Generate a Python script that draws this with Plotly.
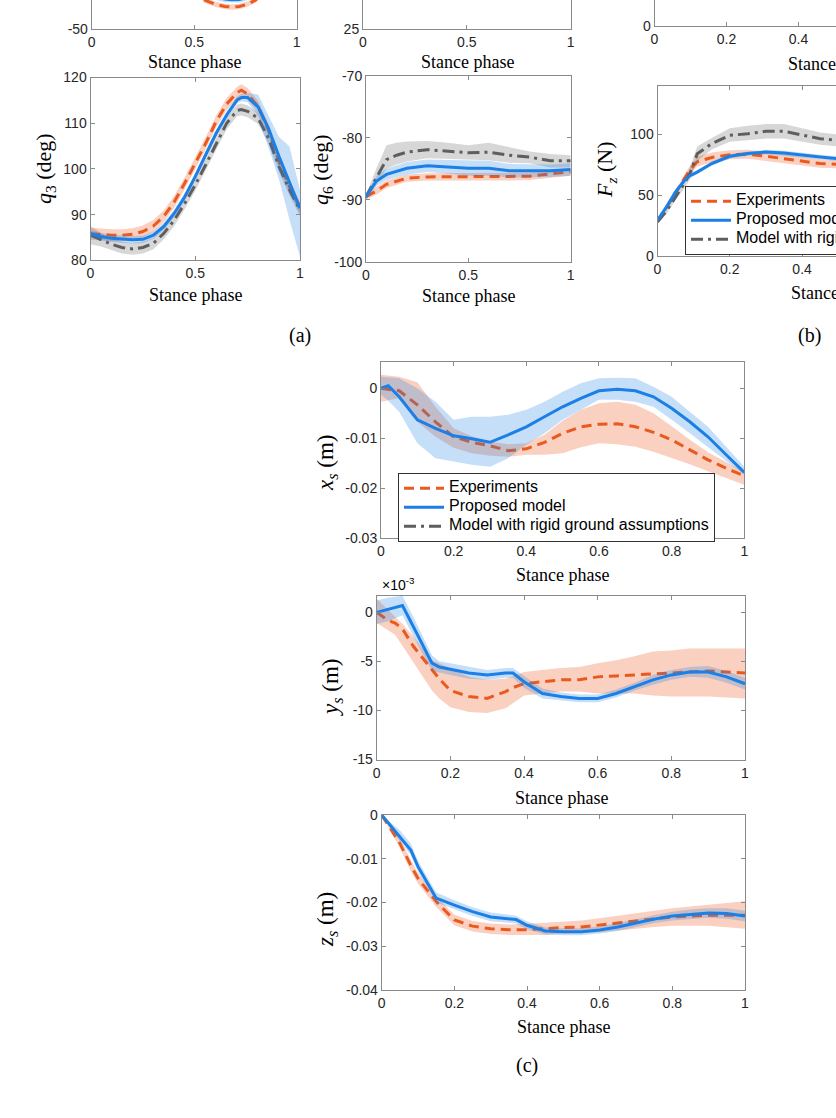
import plotly.graph_objects as go

W, H = 836, 1118

# ---------------- data ----------------
# top-left panel (only bottom strip visible)
tl_x = [0.45, 0.55, 0.6, 0.65, 0.68, 0.72, 0.76, 0.8, 0.9]
tl_exp = [-20, -33.7, -36, -37.3, -37.6, -37.3, -36, -33.7, -22]
tl_exp_up = [-18.5, -32.2, -34.5, -35.8, -36.1, -35.8, -34.5, -32.2, -20.5]
tl_exp_lo = [-21.5, -35.2, -37.5, -38.8, -39.1, -38.8, -37.5, -35.2, -23.5]
tl_prop = [-16, -29.5, -31.8, -33.2, -33.5, -33.4, -32.2, -29.5, -18]
tl_prop_up = [-14.3, -27.8, -30.1, -31.5, -31.8, -31.7, -30.5, -27.8, -16.3]
tl_prop_lo = [-17.7, -31.2, -33.5, -34.9, -35.2, -35.1, -33.9, -31.2, -19.7]

# q3
q3_x = [0, 0.05, 0.1, 0.15, 0.2, 0.25, 0.3, 0.35, 0.4, 0.45, 0.5, 0.55, 0.6, 0.65, 0.7, 0.72, 0.75, 0.8, 0.85, 0.9, 0.95, 1.0]
q3_exp = [85.8, 85.6, 85.5, 85.5, 85.7, 86.3, 87.5, 89.6, 92.8, 96.9, 101.2, 105.6, 110.4, 114.2, 116.7, 117.2, 116.4, 113.6, 108.5, 101.6, 96.1, 91.5]
q3_exp_up = [87.1, 86.9, 86.8, 86.8, 87.0, 87.6, 88.8, 90.9, 94.1, 98.2, 102.5, 106.9, 111.7, 115.5, 118.0, 118.5, 117.7, 114.9, 109.8, 102.9, 97.4, 92.8]
q3_exp_lo = [84.5, 84.3, 84.2, 84.2, 84.4, 85.0, 86.2, 88.3, 91.5, 95.6, 99.9, 104.3, 109.1, 112.9, 115.4, 115.9, 115.1, 112.3, 107.2, 100.3, 94.8, 90.2]
q3_prop = [85.8, 85.2, 84.8, 84.6, 84.5, 84.6, 85.5, 87.4, 90.3, 93.9, 98.3, 103.1, 107.8, 111.8, 115.1, 115.6, 115.6, 113.6, 108.8, 102.7, 96.9, 91.4]
q3_prop_up = [86.6, 86.0, 85.6, 85.4, 85.3, 85.4, 86.3, 88.2, 91.1, 94.7, 99.1, 103.9, 108.6, 112.6, 115.9, 116.4, 116.6, 116.3, 111.5, 107.0, 104.9, 95.4]
q3_prop_lo = [85.0, 84.4, 84.0, 83.8, 83.7, 83.8, 84.7, 86.6, 89.5, 93.1, 97.5, 102.3, 107.0, 111.0, 114.3, 114.8, 114.6, 111.6, 104.8, 97.6, 88.8, 80.8]
q3_rig = [85.5, 84.5, 83.5, 82.8, 82.5, 82.8, 83.7, 85.9, 88.8, 92.5, 96.5, 100.9, 105.6, 110.0, 112.8, 113.0, 112.6, 111.1, 106.7, 100.5, 95.4, 91.0]
q3_rig_up = [87.5, 86.0, 84.8, 84.1, 83.8, 84.1, 85.0, 87.2, 90.1, 93.8, 97.8, 102.2, 106.9, 111.3, 114.1, 114.3, 113.9, 112.4, 108.0, 101.8, 96.7, 92.3]
q3_rig_lo = [83.5, 83.0, 82.2, 81.5, 81.2, 81.5, 82.4, 84.6, 87.5, 91.2, 95.2, 99.6, 104.3, 108.7, 111.5, 111.7, 111.3, 109.8, 105.4, 99.2, 94.1, 89.7]

# q6
q6_x = [0, 0.05, 0.1, 0.15, 0.2, 0.3, 0.4, 0.5, 0.6, 0.7, 0.8, 0.9, 1.0]
q6_exp = [-89.5, -88.6, -87.5, -87.0, -86.5, -86.3, -86.3, -86.3, -86.3, -86.3, -86.2, -85.8, -85.5]
q6_exp_up = [-89.0, -88.0, -86.9, -86.4, -85.9, -85.7, -85.7, -85.7, -85.7, -85.7, -85.6, -85.2, -84.9]
q6_exp_lo = [-90.0, -89.2, -88.1, -87.6, -87.1, -86.9, -86.9, -86.9, -86.9, -86.9, -86.8, -86.4, -86.1]
q6_prop = [-89.5, -87.0, -85.9, -85.4, -84.9, -84.5, -84.7, -84.9, -84.9, -85.3, -85.3, -85.3, -85.1]
q6_prop_up = [-89.0, -86.2, -85.0, -84.4, -83.9, -83.5, -83.6, -83.7, -83.7, -84.2, -84.3, -84.3, -84.1]
q6_prop_lo = [-90.0, -87.8, -86.8, -86.4, -85.9, -85.5, -85.8, -86.1, -86.1, -86.4, -86.3, -86.3, -86.1]
q6_rig = [-89.5, -86.4, -83.5, -82.8, -82.3, -81.9, -82.1, -82.4, -82.3, -82.8, -83.1, -83.7, -83.7]
q6_rig_up = [-89.2, -85.0, -81.2, -80.8, -80.6, -80.5, -80.8, -81.2, -80.8, -81.5, -82.2, -82.6, -82.8]
q6_rig_lo = [-89.8, -87.6, -85.0, -84.3, -83.8, -83.3, -83.4, -83.5, -83.6, -84.0, -84.1, -84.8, -84.8]

# Fz (visible part only)
fz_x = [0, 0.025, 0.05, 0.075, 0.09, 0.11, 0.15, 0.2, 0.25, 0.3, 0.35, 0.4, 0.45, 0.5]
fz_exp = [28.1, 40, 52.7, 64, 71, 77.5, 81, 83.3, 83.6, 82, 80, 77.9, 76, 75.4]
fz_exp_up = [29, 42, 55, 67, 74.5, 81.5, 85, 87, 87.3, 85.8, 83.8, 81.6, 79.5, 78.8]
fz_exp_lo = [27, 38, 50.5, 61, 67.5, 73.5, 77, 79.5, 79.9, 78.3, 76.3, 74.3, 72.5, 72]
fz_prop = [29.5, 40.4, 52.7, 62.3, 66, 69, 76, 82, 84.2, 85.5, 84.7, 82.8, 81.4, 80]
fz_prop_up = [31.3, 42.2, 54.5, 64.1, 67.8, 70.8, 77.8, 83.8, 86.0, 87.3, 86.5, 84.6, 83.2, 81.8]
fz_prop_lo = [27.7, 38.6, 50.9, 60.5, 64.2, 67.2, 74.2, 80.2, 82.4, 83.7, 82.9, 81.0, 79.6, 78.2]
fz_rig = [28.1, 37, 48.6, 60, 68, 84, 92.3, 99.2, 100.5, 102.5, 102.5, 99.2, 96.4, 95]
fz_rig_up = [29.5, 39.5, 51.5, 64, 73, 90, 97, 105, 107, 108.5, 108.5, 105, 101.5, 100]
fz_rig_lo = [26.5, 34.5, 46, 56, 63, 78, 87.5, 94, 95, 96.5, 96.5, 94, 91.5, 90]

# x_s (m)
xs_x = [0, 0.02, 0.05, 0.1, 0.15, 0.2, 0.25, 0.3, 0.35, 0.4, 0.45, 0.5, 0.55, 0.6, 0.65, 0.7, 0.75, 0.8, 0.85, 0.9, 0.95, 1.0]
xs_exp = [0, -0.0002, -0.0005, -0.0033, -0.0067, -0.0097, -0.0108, -0.0115, -0.0125, -0.0121, -0.0108, -0.009, -0.0077, -0.0072, -0.0071, -0.0077, -0.0088, -0.0103, -0.0123, -0.0143, -0.016, -0.0175]
xs_exp_up = [0.0027, 0.0025, 0.0023, 0.0012, -0.0037, -0.008, -0.0096, -0.0107, -0.0112, -0.011, -0.0093, -0.0065, -0.0043, -0.003, -0.0027, -0.0033, -0.005, -0.0076, -0.0103, -0.0128, -0.0148, -0.0167]
xs_exp_lo = [-0.0027, -0.0024, -0.002, -0.0067, -0.0097, -0.0119, -0.013, -0.0135, -0.0137, -0.0133, -0.0133, -0.013, -0.0118, -0.011, -0.0112, -0.0117, -0.0127, -0.0139, -0.0152, -0.0166, -0.018, -0.0193]
xs_prop = [0, 0.0005, -0.0017, -0.0063, -0.008, -0.0095, -0.0101, -0.0108, -0.0093, -0.0077, -0.0057, -0.0037, -0.002, -0.0005, -0.0002, -0.0005, -0.0017, -0.004, -0.0067, -0.0097, -0.0133, -0.0168]
xs_prop_up = [0.0023, 0.0022, 0.002, 0, -0.0027, -0.0063, -0.0057, -0.0057, -0.0053, -0.0043, -0.0027, -0.0007, 0.001, 0.002, 0.0021, 0.002, 0.0003, -0.0017, -0.0047, -0.0077, -0.0117, -0.0157]
xs_prop_lo = [-0.0013, -0.0025, -0.0047, -0.011, -0.014, -0.0147, -0.0153, -0.0157, -0.014, -0.0113, -0.009, -0.0063, -0.0043, -0.0023, -0.0023, -0.0027, -0.0037, -0.0063, -0.009, -0.0117, -0.0145, -0.0173]

# y_s (x1e-3 m)
ys_x = [0, 0.03, 0.05, 0.07, 0.1, 0.15, 0.17, 0.2, 0.25, 0.3, 0.35, 0.37, 0.4, 0.45, 0.5, 0.55, 0.6, 0.65, 0.7, 0.75, 0.8, 0.85, 0.9, 0.95, 1.0]
ys_exp = [0, -0.8, -1.1, -1.7, -3.5, -5.9, -6.8, -8.0, -8.6, -8.8, -8.1, -7.7, -7.3, -7.1, -6.9, -6.9, -6.6, -6.5, -6.4, -6.3, -6.2, -6.1, -6.0, -6.1, -6.2]
ys_exp_up = [1.4, 0.3, -0.4, -1.2, -2.5, -4.9, -5.2, -5.7, -6.6, -6.9, -6.8, -6.5, -6.1, -5.9, -5.7, -5.6, -5.2, -4.9, -4.5, -4.0, -3.9, -3.7, -3.7, -3.7, -3.7]
ys_exp_lo = [-1.1, -1.8, -2.3, -3.5, -5.2, -8.0, -8.8, -9.7, -10.2, -10.3, -9.8, -9.3, -8.5, -8.3, -8.1, -8.1, -8.3, -8.3, -8.3, -8.5, -8.6, -8.6, -8.6, -8.7, -8.8]
ys_prop = [0, 0.3, 0.5, 0.7, -1.5, -5.2, -5.6, -5.8, -6.2, -6.4, -6.2, -6.2, -7.1, -8.3, -8.6, -8.8, -8.8, -8.3, -7.6, -6.9, -6.4, -6.1, -6.1, -6.6, -7.3]
ys_prop_up = [1.2, 1.5, 1.6, 1.7, -0.5, -4.4, -5.0, -5.2, -5.6, -5.9, -5.7, -5.7, -6.5, -7.8, -8.2, -8.4, -8.4, -7.9, -7.2, -6.4, -5.9, -5.6, -5.5, -6.0, -6.7]
ys_prop_lo = [-1.2, -0.9, -0.6, -0.3, -2.5, -6.0, -6.2, -6.4, -6.8, -6.9, -6.7, -6.7, -7.7, -8.8, -9.0, -9.2, -9.2, -8.7, -8.0, -7.4, -6.9, -6.6, -6.7, -7.2, -7.9]

# z_s (m)
zs_x = [0, 0.05, 0.08, 0.1, 0.15, 0.2, 0.25, 0.3, 0.35, 0.37, 0.4, 0.45, 0.5, 0.55, 0.6, 0.65, 0.7, 0.75, 0.8, 0.85, 0.9, 0.95, 1.0]
zs_exp = [0, -0.0065, -0.0115, -0.0145, -0.0198, -0.024, -0.0254, -0.026, -0.0262, -0.0262, -0.0262, -0.026, -0.0257, -0.0256, -0.0252, -0.0247, -0.0242, -0.0237, -0.0233, -0.0231, -0.0229, -0.0229, -0.0229]
zs_exp_up = [0, -0.0055, -0.0102, -0.0133, -0.0186, -0.0228, -0.0242, -0.0248, -0.025, -0.025, -0.0249, -0.0246, -0.0243, -0.0241, -0.0236, -0.023, -0.0224, -0.0218, -0.0213, -0.0209, -0.0205, -0.0202, -0.0197]
zs_exp_lo = [0, -0.0075, -0.0128, -0.0157, -0.021, -0.0252, -0.0266, -0.0272, -0.0274, -0.0274, -0.0275, -0.0274, -0.0271, -0.027, -0.0268, -0.0264, -0.026, -0.0256, -0.0253, -0.0253, -0.0253, -0.0256, -0.026]
zs_prop = [0, -0.005, -0.008, -0.0118, -0.019, -0.0206, -0.0221, -0.0233, -0.0237, -0.0239, -0.0252, -0.0265, -0.0267, -0.0267, -0.0263, -0.0256, -0.0247, -0.0238, -0.0231, -0.0227, -0.0224, -0.0225, -0.0231]
zs_prop_up = [0, -0.0035, -0.0065, -0.0105, -0.0177, -0.0195, -0.0211, -0.0223, -0.0228, -0.023, -0.0243, -0.0257, -0.0259, -0.0259, -0.0255, -0.0247, -0.0238, -0.0229, -0.0221, -0.0216, -0.0213, -0.0213, -0.0219]
zs_prop_lo = [0, -0.006, -0.0092, -0.013, -0.02, -0.0216, -0.0231, -0.0243, -0.0246, -0.0248, -0.0261, -0.0273, -0.0275, -0.0275, -0.0271, -0.0265, -0.0256, -0.0247, -0.0241, -0.0238, -0.0235, -0.0237, -0.0243]

series_names = ["Experiments", "Proposed model", "Model with rigid ground assumptions"]

# ---------------- styling ----------------
ORANGE = '#EA5A1F'
BLUE = '#1B7FE6'
GRAY = '#5E5E5E'
ORANGE_BAND = 'rgba(240,110,60,0.32)'
BLUE_BAND = 'rgba(30,130,230,0.26)'
GRAY_BAND = 'rgba(100,100,100,0.26)'
AX_COLOR = '#8a8a8a'
TXT = '#262626'
SANS = 'Liberation Sans, Arial, sans-serif'
SERIF = 'Liberation Serif, Times New Roman, serif'
LW = 3
LEGEND_TEXT_PX = 16

STYLE = {
    'exp': dict(color=ORANGE, dash='10px,6px', band=ORANGE_BAND, name=series_names[0], rank=1),
    'prop': dict(color=BLUE, dash='solid', band=BLUE_BAND, name=series_names[1], rank=2),
    'rig': dict(color=GRAY, dash='12px,5px,3px,5px', band=GRAY_BAND, name=series_names[2], rank=3),
}

fig = go.Figure()


def add_series(n, kind, x, y, up, lo, legend=None):
    st = STYLE[kind]
    xa, ya = 'x%d' % n if n > 1 else 'x', 'y%d' % n if n > 1 else 'y'
    if up is not None:
        fig.add_trace(go.Scatter(x=list(x) + list(x)[::-1], y=list(up) + list(lo)[::-1],
                                 fill='toself', fillcolor=st['band'], line=dict(width=0),
                                 mode='lines', hoverinfo='skip', showlegend=False,
                                 xaxis=xa, yaxis=ya))
    label = '<span style="font-size:%dpx">%s</span>' % (LEGEND_TEXT_PX, st['name'])
    fig.add_trace(go.Scatter(x=x, y=y, mode='lines', name=label,
                             line=dict(color=st['color'], width=LW, dash=st['dash']),
                             showlegend=legend is not None, legend=legend or 'legend',
                             legendrank=st['rank'], xaxis=xa, yaxis=ya))


# panel 1: top-left (cut)
add_series(1, 'exp', tl_x, tl_exp, tl_exp_up, tl_exp_lo)
add_series(1, 'prop', tl_x, tl_prop, tl_prop_up, tl_prop_lo)
# panel 4: q3
add_series(4, 'exp', q3_x, q3_exp, q3_exp_up, q3_exp_lo)
add_series(4, 'rig', q3_x, q3_rig, q3_rig_up, q3_rig_lo)
add_series(4, 'prop', q3_x, q3_prop, q3_prop_up, q3_prop_lo)
# panel 5: q6
add_series(5, 'exp', q6_x, q6_exp, q6_exp_up, q6_exp_lo)
add_series(5, 'rig', q6_x, q6_rig, q6_rig_up, q6_rig_lo)
add_series(5, 'prop', q6_x, q6_prop, q6_prop_up, q6_prop_lo)
# panel 6: Fz
add_series(6, 'exp', fz_x, fz_exp, fz_exp_up, fz_exp_lo, legend='legend')
add_series(6, 'rig', fz_x, fz_rig, fz_rig_up, fz_rig_lo, legend='legend')
add_series(6, 'prop', fz_x, fz_prop, fz_prop_up, fz_prop_lo, legend='legend')
# panel 7: xs
add_series(7, 'exp', xs_x, xs_exp, xs_exp_up, xs_exp_lo, legend='legend2')
add_series(7, 'prop', xs_x, xs_prop, xs_prop_up, xs_prop_lo, legend='legend2')
add_series(7, 'rig', [None], [None], None, None, legend='legend2')
# panel 8: ys
add_series(8, 'exp', ys_x, ys_exp, ys_exp_up, ys_exp_lo)
add_series(8, 'prop', ys_x, ys_prop, ys_prop_up, ys_prop_lo)
# panel 9: zs
add_series(9, 'exp', zs_x, zs_exp, zs_exp_up, zs_exp_lo)
add_series(9, 'prop', zs_x, zs_prop, zs_prop_up, zs_prop_lo)

# invisible anchors for empty panels 2 and 3
for n in (2, 3):
    fig.add_trace(go.Scatter(x=[None], y=[None], mode='lines', showlegend=False,
                             xaxis='x%d' % n, yaxis='y%d' % n))

# ---------------- axes ----------------
# (x0,x1) and (ytop,ybottom) in pixels
panels = {
    1: dict(xd=(91.7, 296.7), yd=(0, 29.3), xr=[0, 1], yr=[-50, -33.7],
            xt=[0, 0.5, 1], xtt=['0', '0.5', '1'], yt=[-50], ytt=['-50'], xm=False, ym=True),
    2: dict(xd=(363, 570.7), yd=(0, 29.0), xr=[0, 1], yr=[25, 40],
            xt=[0, 0.5, 1], xtt=['0', '0.5', '1'], yt=[25], ytt=['25'], xm=False, ym=True),
    3: dict(xd=(654.5, 836), yd=(0, 25.7), xr=[0, 181.5 / 360], yr=[0, 20],
            xt=[0, 0.2, 0.4], xtt=['0', '0.2', '0.4'], yt=[0], ytt=['0'], xm=False, ym=False),
    4: dict(xd=(90.5, 300), yd=(77.5, 260.3), xr=[0, 1], yr=[80, 120],
            xt=[0, 0.5, 1], xtt=['0', '0.5', '1'], yt=[80, 90, 100, 110, 120],
            ytt=['80', '90', '100', '110', '120'], xm=True, ym=True),
    5: dict(xd=(366, 570.7), yd=(76, 261.7), xr=[0, 1], yr=[-100, -70],
            xt=[0, 0.5, 1], xtt=['0', '0.5', '1'], yt=[-100, -90, -80, -70],
            ytt=['-100', '-90', '-80', '-70'], xm=True, ym=True),
    6: dict(xd=(657.5, 836), yd=(85.7, 256), xr=[0, 178.5 / 361.5], yr=[0, 140],
            xt=[0, 0.2, 0.4], xtt=['0', '0.2', '0.4'], yt=[0, 50, 100],
            ytt=['0', '50', '100'], xm=True, ym=False),
    7: dict(xd=(381, 744.3), yd=(362.3, 538.3), xr=[0, 1], yr=[-0.03, 0.0052],
            xt=[0, 0.2, 0.4, 0.6, 0.8, 1], xtt=['0', '0.2', '0.4', '0.6', '0.8', '1'],
            yt=[-0.03, -0.02, -0.01, 0], ytt=['-0.03', '-0.02', '-0.01', '0'], xm=True, ym=True),
    8: dict(xd=(376.7, 745), yd=(595.7, 760), xr=[0, 1], yr=[-15.1, 1.7],
            xt=[0, 0.2, 0.4, 0.6, 0.8, 1], xtt=['0', '0.2', '0.4', '0.6', '0.8', '1'],
            yt=[-15, -10, -5, 0], ytt=['-15', '-10', '-5', '0'], xm=True, ym=True),
    9: dict(xd=(381.7, 745), yd=(815, 990), xr=[0, 1], yr=[-0.04, 0],
            xt=[0, 0.2, 0.4, 0.6, 0.8, 1], xtt=['0', '0.2', '0.4', '0.6', '0.8', '1'],
            yt=[-0.04, -0.03, -0.02, -0.01, 0], ytt=['-0.04', '-0.03', '-0.02', '-0.01', '0'],
            xm=True, ym=True),
}

axis_common = dict(showgrid=False, zeroline=False, showline=True, linecolor=AX_COLOR,
                   linewidth=1, ticks='inside', ticklen=4, tickcolor=AX_COLOR,
                   tickfont=dict(family=SANS, size=14, color=TXT), tickmode='array',
                   fixedrange=True)

layout_axes = {}
for n, p in panels.items():
    sx = '' if n == 1 else str(n)
    layout_axes['xaxis' + sx] = dict(
        axis_common, domain=[p['xd'][0] / W, min(p['xd'][1] / W, 1)],
        anchor='y' + sx, range=p['xr'], tickvals=p['xt'], ticktext=p['xtt'],
        mirror='ticks' if p['xm'] else False)
    layout_axes['yaxis' + sx] = dict(
        axis_common, domain=[1 - p['yd'][1] / H, 1 - p['yd'][0] / H],
        anchor='x' + sx, range=p['yr'], tickvals=p['yt'], ticktext=p['ytt'],
        mirror='ticks' if p['ym'] else False)

# ---------------- text ----------------
ann = []


def text(x, y, s, size, angle=0, family=SERIF):
    ann.append(dict(x=x / W, y=1 - y / H, xref='paper', yref='paper', text=s,
                    showarrow=False, textangle=angle, xanchor='center', yanchor='middle',
                    font=dict(family=family, size=size, color='#000')))


for cx, cy in [(194, 62), (467, 62), (834, 64), (195, 295), (468, 296), (837, 293),
               (562, 575), (561, 798), (563, 1027)]:
    text(cx, cy, 'Stance phase', 18)

text(45, 169, '<i>q</i><sub>3</sub> (deg)', 22, -90)
text(322, 170, '<i>q</i><sub>6</sub> (deg)', 22, -90)
text(606, 170, '<i>F</i><sub><i>z</i></sub> (N)', 22, -90)
text(327, 463, '<i>x</i><sub><i>s</i></sub> (m)', 23, -90)
text(332, 688, '<i>y</i><sub><i>s</i></sub> (m)', 23, -90)
text(327, 920, '<i>z</i><sub><i>s</i></sub> (m)', 23, -90)
text(398, 584, '×10<sup>-3</sup>', 14, 0, SANS)
text(300, 335, '(a)', 20)
text(809, 335, '(b)', 20)
text(527, 1065, '(c)', 20)

# legend font size sets the row pitch; the entry text itself is drawn at LEGEND_TEXT_PX
legend_style = dict(bgcolor='white', bordercolor='#333333', borderwidth=1,
                    font=dict(family=SANS, size=11, color='#000'),
                    xanchor='left', yanchor='top', tracegroupgap=0, itemwidth=40)

fig.update_layout(
    width=W, height=H, margin=dict(l=0, r=0, t=0, b=0, autoexpand=False),
    paper_bgcolor='white', plot_bgcolor='rgba(0,0,0,0)',
    annotations=ann,
    legend=dict(legend_style, x=685 / W, y=1 - 185.7 / H),
    legend2=dict(legend_style, x=398 / W, y=1 - 472.7 / H),
    **layout_axes,
)

fig.write_html("out.html")
